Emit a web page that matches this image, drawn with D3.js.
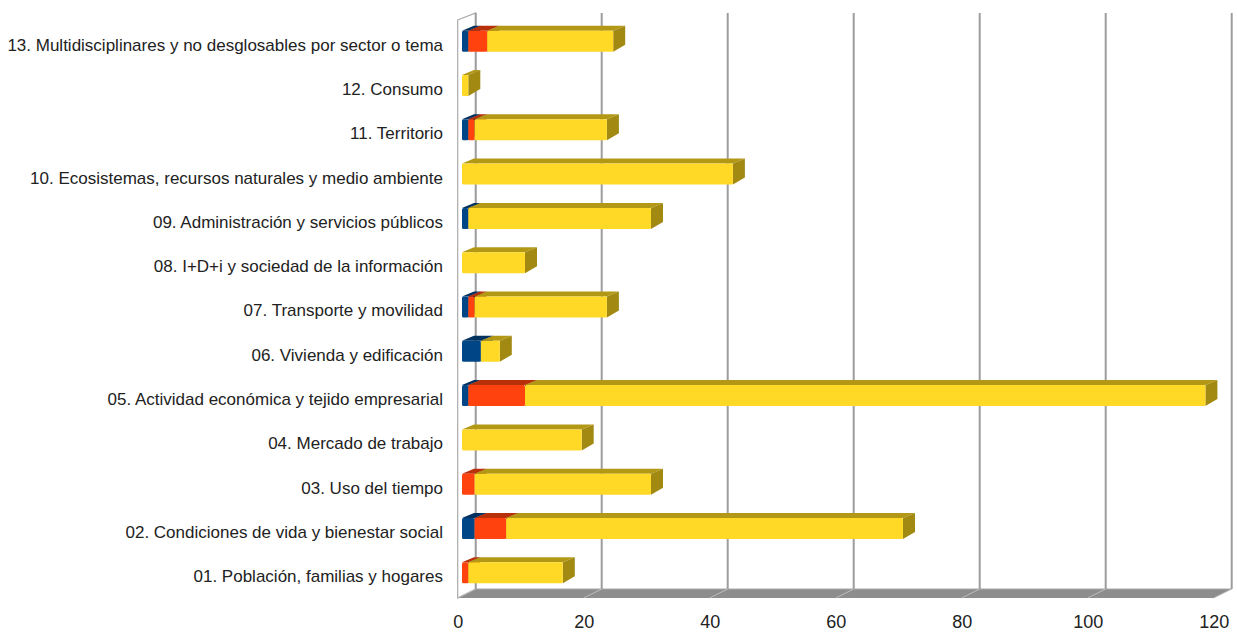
<!DOCTYPE html>
<html>
<head>
<meta charset="utf-8">
<script src="https://cdn.jsdelivr.net/npm/d3@7"></script>
<style>
  body { margin: 0; background: #fff; }
  svg { display: block; }
</style>
</head>
<body>
<div id="chart"></div>
<script>
// categories, bottom to top
var categories = [
  "01. Población, familias y hogares",
  "02. Condiciones de vida y bienestar social",
  "03. Uso del tiempo",
  "04. Mercado de trabajo",
  "05. Actividad económica y tejido empresarial",
  "06. Vivienda y edificación",
  "07. Transporte y movilidad",
  "08. I+D+i y sociedad de la información",
  "09. Administración y servicios públicos",
  "10. Ecosistemas, recursos naturales y medio ambiente",
  "11. Territorio",
  "12. Consumo",
  "13. Multidisciplinares y no desglosables por sector o tema"
];

// three stacked series (blue, red, yellow)
var blueValues   = [0, 2, 0, 0, 1, 3, 1, 0, 1, 0, 1, 0, 1];
var redValues    = [1, 5, 2, 0, 9, 0, 1, 0, 0, 0, 1, 0, 3];
var yellowValues = [15, 63, 28, 19, 108, 3, 21, 10, 29, 43, 21, 1, 20];

var xTicks = [0, 20, 40, 60, 80, 100, 120];

window.onload = function () {
    var width = 1237;
    var height = 632;

    // depth of the wall box and of each bar
    var frontDx = -4.3, frontY = 598;   // front edge of the floor
    var backDx = 13.7, backY = 589;      // back wall
    var wallTop = 13;
    var barDx = 12, barDy = 5;
    var barH = 21;

    var series = [
        {values: blueValues,   front: "#004586", top: "#00315f", side: "#002b54"},
        {values: redValues,    front: "#ff420e", top: "#b8300a", side: "#a32a08"},
        {values: yellowValues, front: "#ffd926", top: "#b39816", side: "#a28a12"}
    ];

    var svg = d3.select("#chart")
        .append("svg")
        .attr("width", width)
        .attr("height", height);

    var x = d3.scaleLinear().domain([0, 120]).range([462, 1218]);
    var y = d3.scaleBand().domain(categories.slice().reverse()).range([19, 595]);

    //left wall
    svg.append("polygon")
        .attr("points", [
            [x(0) + frontDx, 20], [x(0) + backDx, wallTop],
            [x(0) + backDx, backY], [x(0) + frontDx, frontY]].join(" "))
        .attr("fill", "#fff")
        .attr("stroke", "#aaa")
        .attr("stroke-width", 1.2);

    //floor
    svg.append("polygon")
        .attr("points", [
            [x(0) + frontDx, frontY], [x(0) + backDx, backY],
            [x(120) + backDx, backY], [x(120) + frontDx, frontY]].join(" "))
        .attr("fill", "#8d8d8d");

    svg.append("line")
        .attr("x1", x(0) + backDx).attr("x2", x(120) + backDx)
        .attr("y1", backY).attr("y2", backY)
        .attr("stroke", "#a9a9a9").attr("stroke-width", 1);

    svg.append("g")
        .selectAll("line")
        .data(xTicks)
        .enter()
        .append("line")
        .attr("x1", function (d) { return x(d) + frontDx; })
        .attr("x2", function (d) { return x(d) + backDx; })
        .attr("y1", frontY)
        .attr("y2", backY)
        .attr("stroke", "#bdbdbd")
        .attr("stroke-width", 1);

    //back gridlines
    svg.append("g")
        .selectAll("line")
        .data(xTicks)
        .enter()
        .append("line")
        .attr("x1", function (d) { return x(d) + backDx; })
        .attr("x2", function (d) { return x(d) + backDx; })
        .attr("y1", wallTop)
        .attr("y2", backY)
        .attr("stroke", "#9d9d9d")
        .attr("stroke-width", 2);

    //bars
    var bars = svg.append("g");
    categories.forEach(function (cat, i) {
        var start = 0;
        var cy = y(cat) + y.bandwidth() / 2;
        var y0 = cy - barH / 2, y1 = cy + barH / 2;
        series.forEach(function (s) {
            var v = s.values[i];
            if (!v) return;
            var x0 = x(start), x1 = x(start + v);
            start += v;
            var g = bars.append("g");
            g.append("polygon")
                .attr("points", [[x0, y0], [x0 + barDx, y0 - barDy], [x1 + barDx, y0 - barDy], [x1, y0]].join(" "))
                .attr("fill", s.top);
            g.append("polygon")
                .attr("points", [[x1, y0], [x1 + barDx, y0 - barDy], [x1 + barDx, y1 - barDy - 2], [x1, y1]].join(" "))
                .attr("fill", s.side);
            g.append("rect")
                .attr("x", x0)
                .attr("y", y0)
                .attr("width", x1 - x0)
                .attr("height", barH)
                .attr("rx", 1.5)
                .attr("fill", s.front);
        });
    });

    //category labels
    var yAxis = svg.append("g")
        .attr("transform", "translate(443,4)")
        .call(d3.axisLeft(y).tickSize(0).tickPadding(0));
    yAxis.select(".domain").remove();
    yAxis.selectAll("text")
        .attr("font-family", "'Liberation Sans', Arial, sans-serif")
        .attr("font-size", 17)
        .attr("fill", "#222");

    //x axis labels
    var xFront = d3.scaleLinear().domain([0, 120]).range([x(0) + frontDx, x(120) + frontDx]);
    var xAxis = svg.append("g")
        .attr("transform", "translate(0,628)")
        .call(d3.axisBottom(xFront).tickValues(xTicks).tickSize(0).tickPadding(0));
    xAxis.select(".domain").remove();
    xAxis.selectAll("text")
        .attr("y", 0)
        .attr("dy", 0)
        .attr("font-family", "'Liberation Sans', Arial, sans-serif")
        .attr("font-size", 18)
        .attr("fill", "#222");
};
</script>
</body>
</html>
